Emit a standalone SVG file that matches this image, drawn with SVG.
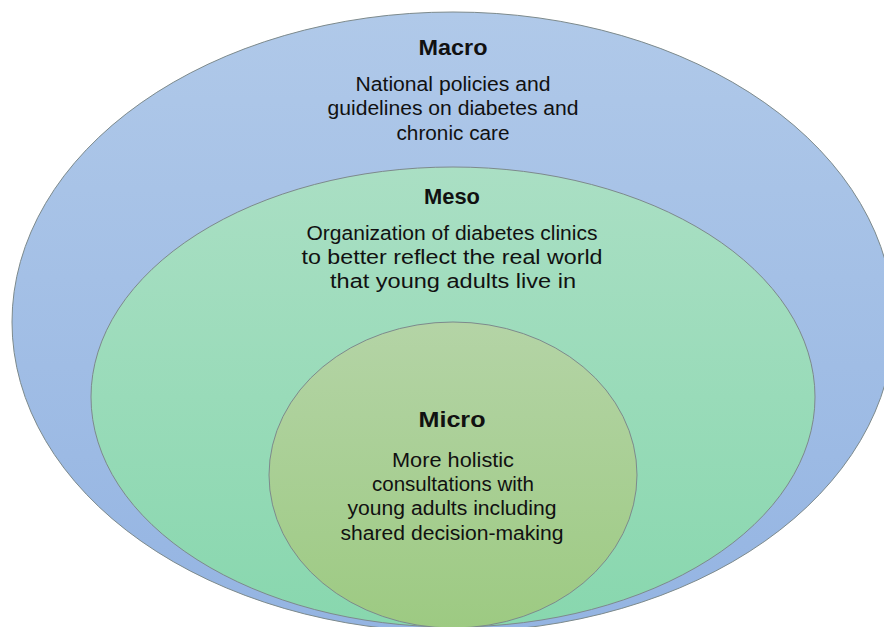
<svg xmlns="http://www.w3.org/2000/svg" width="884" height="627" viewBox="0 0 884 627">
  <defs>
    <linearGradient id="gMacro" x1="0" y1="0" x2="0" y2="1">
      <stop offset="0" stop-color="#b0c9e9"/>
      <stop offset="1" stop-color="#94b4e2"/>
    </linearGradient>
    <linearGradient id="gMeso" x1="0" y1="0" x2="0" y2="1">
      <stop offset="0" stop-color="#aadfc4"/>
      <stop offset="1" stop-color="#88d7ae"/>
    </linearGradient>
    <linearGradient id="gMicro" x1="0" y1="0" x2="0" y2="1">
      <stop offset="0" stop-color="#b4d4a6"/>
      <stop offset="1" stop-color="#9dca82"/>
    </linearGradient>
  </defs>
  <style>
    .ring { stroke: #7d8a8c; stroke-width: 1; }
    .title { font-family: "Liberation Sans", Arial, sans-serif; font-weight: bold; font-size: 22px; fill: #111; text-anchor: middle; }
    .body { font-family: "Liberation Sans", Arial, sans-serif; font-size: 20px; fill: #111; text-anchor: middle; }
  </style>
  <rect width="884" height="627" fill="#ffffff"/>

  <!-- outer level: policy -->
  <g id="macro">
    <ellipse class="ring" cx="453" cy="322" rx="441" ry="310" fill="url(#gMacro)"/>
    <text class="title" x="453" y="55" textLength="69" lengthAdjust="spacingAndGlyphs">Macro</text>
    <text class="body" x="453" y="91" textLength="195" lengthAdjust="spacingAndGlyphs">National policies and</text>
    <text class="body" x="453" y="115" textLength="251" lengthAdjust="spacingAndGlyphs">guidelines on diabetes and</text>
    <text class="body" x="453" y="140" textLength="113" lengthAdjust="spacingAndGlyphs">chronic care</text>
  </g>

  <!-- middle level: clinics -->
  <g id="meso">
    <ellipse class="ring" cx="453" cy="397" rx="362" ry="230" fill="url(#gMeso)"/>
    <text class="title" x="452" y="204" textLength="56" lengthAdjust="spacingAndGlyphs">Meso</text>
    <text class="body" x="452" y="240" textLength="291" lengthAdjust="spacingAndGlyphs">Organization of diabetes clinics</text>
    <text class="body" x="452" y="264" textLength="301" lengthAdjust="spacingAndGlyphs">to better reflect the real world</text>
    <text class="body" x="453" y="288" textLength="246" lengthAdjust="spacingAndGlyphs">that young adults live in</text>
  </g>

  <!-- inner level: consultations -->
  <g id="micro">
    <ellipse class="ring" cx="453" cy="475" rx="184" ry="153" fill="url(#gMicro)"/>
    <text class="title" x="452" y="427" textLength="67" lengthAdjust="spacingAndGlyphs">Micro</text>
    <text class="body" x="453" y="467" textLength="122" lengthAdjust="spacingAndGlyphs">More holistic</text>
    <text class="body" x="453" y="491" textLength="162" lengthAdjust="spacingAndGlyphs">consultations with</text>
    <text class="body" x="452" y="515" textLength="209" lengthAdjust="spacingAndGlyphs">young adults including</text>
    <text class="body" x="452" y="540" textLength="223" lengthAdjust="spacingAndGlyphs">shared decision-making</text>
  </g>

  <g id="connectors"/>
</svg>
